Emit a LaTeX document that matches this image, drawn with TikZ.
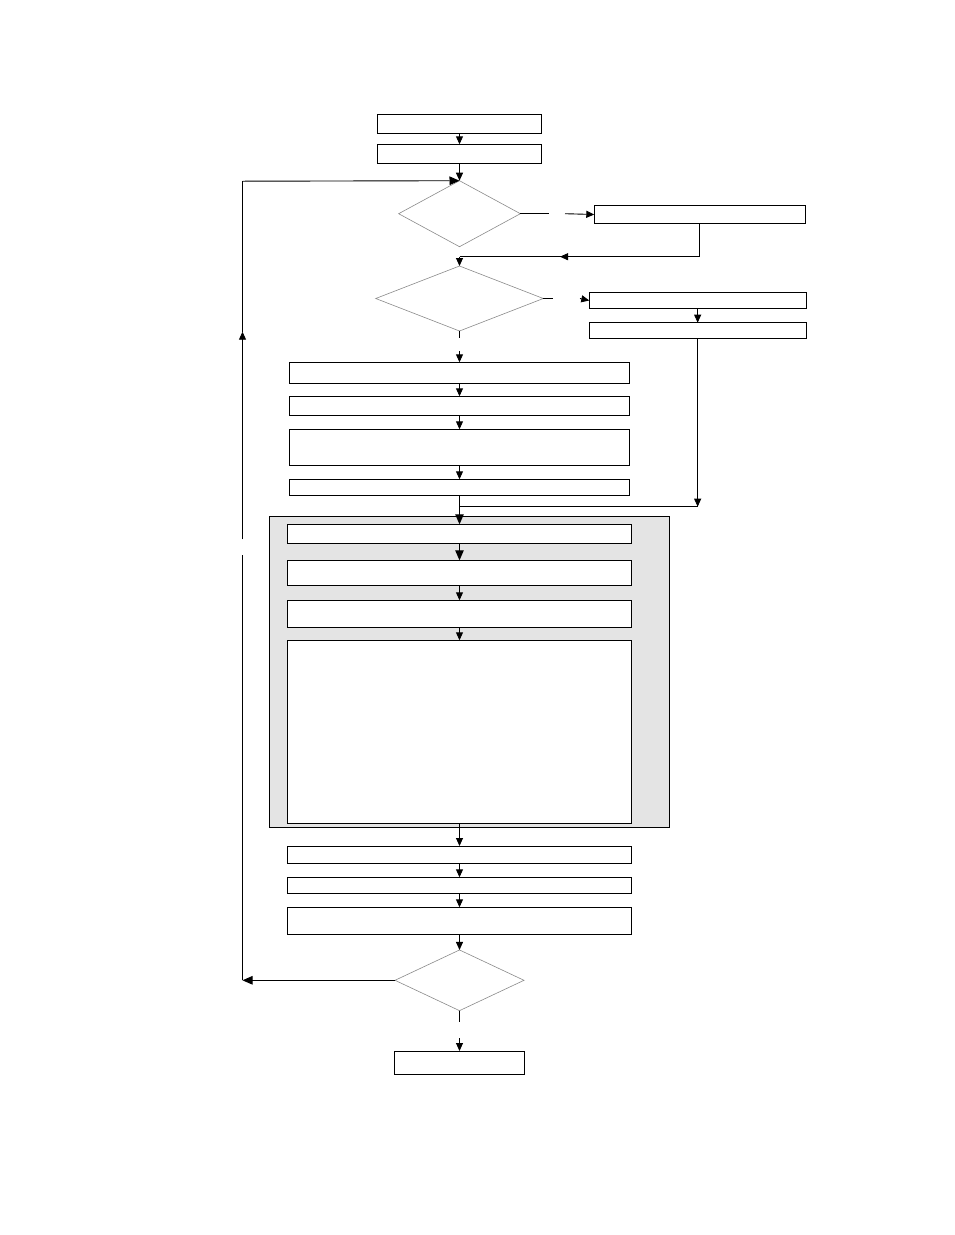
\documentclass[tikz,border=0pt]{standalone}
\usetikzlibrary{arrows.meta,shapes.geometric}
\definecolor{panelgray}{HTML}{E4E4E4}
\definecolor{diagray}{HTML}{8A8A8A}
\tikzset{
  box/.style={draw=black,line width=0.9pt,fill=white,rectangle,inner sep=0pt,outer sep=0pt},
  dia/.style={draw=diagray,line width=0.6pt,diamond,inner sep=0pt,outer sep=0pt},
  panel/.style={draw=black,line width=0.9pt,fill=panelgray},
  conn/.style={line width=0.9pt},
  arr/.style={conn,-{Triangle[length=8pt,width=7pt]}},
  bigarr/.style={conn,-{Triangle[length=10pt,width=8.5pt]}}
}
\begin{document}
\begin{tikzpicture}[x=1pt,y=-1pt]
\useasboundingbox (0,0) rectangle (954,1235);
% shaded panel
\node[panel,minimum width=400,minimum height=311.3,inner sep=0pt,outer sep=0pt] (panel) at (469.3,671.65) {};
% boxes
\node[box,minimum width=164.4,minimum height=19] (b1) at (459.5,123.8) {};
\node[box,minimum width=164.4,minimum height=19] (b2) at (459.5,153.8) {};
\node[dia,minimum width=121.7,minimum height=66] (d1) at (459.5,213.7) {};
\node[box,minimum width=210.7,minimum height=17.6] (b3) at (699.65,214.5) {};
\node[dia,minimum width=167.6,minimum height=65] (d2) at (459.5,298.5) {};
\node[box,minimum width=216.7,minimum height=15.6] (b4) at (697.65,300.5) {};
\node[box,minimum width=216.7,minimum height=15.6] (b5) at (697.65,330.5) {};
\node[box,minimum width=340,minimum height=21] (b6) at (459.5,372.8) {};
\node[box,minimum width=340,minimum height=19] (b7) at (459.5,405.8) {};
\node[box,minimum width=340,minimum height=36] (b8) at (459.5,447.3) {};
\node[box,minimum width=340,minimum height=16] (b9) at (459.5,487.3) {};
\node[box,minimum width=343.4,minimum height=19] (b10) at (459.5,533.8) {};
\node[box,minimum width=343.4,minimum height=25] (b11) at (459.5,572.8) {};
\node[box,minimum width=343.4,minimum height=27] (b12) at (459.5,613.8) {};
\node[box,minimum width=343.4,minimum height=183] (b13) at (459.5,731.8) {};
\node[box,minimum width=343.4,minimum height=17.3] (b14) at (459.5,854.65) {};
\node[box,minimum width=343.4,minimum height=16] (b15) at (459.5,885.3) {};
\node[box,minimum width=343.4,minimum height=27] (b16) at (459.5,920.8) {};
\node[dia,minimum width=129,minimum height=60.7] (d3) at (459.5,980.3) {};
\node[box,minimum width=130,minimum height=23.3] (b17) at (459.5,1062.65) {};
% free coordinates
\coordinate (y1a) at (549.3,213.7);
\coordinate (y1b) at (565,213.7);
\coordinate (j1) at (459.5,256.7);
\coordinate (m1a) at (585,256.7);
\coordinate (m1b) at (560,256.7);
\coordinate (y2a) at (552.7,298.5);
\coordinate (y2b) at (580,298.5);
\coordinate (n2a) at (459.5,338.3);
\coordinate (n2b) at (459.5,351);
\coordinate (j2) at (697.65,506.7);
\coordinate (j3) at (459.5,506.7);
\coordinate (n3a) at (459.5,1021.7);
\coordinate (n3b) at (459.5,1038);
\coordinate (L1) at (242.5,980.3);
\coordinate (L2) at (242.5,555);
\coordinate (L3) at (242.5,539.3);
\coordinate (L4) at (242.5,331.7);
\coordinate (L5) at (242.5,181.2);
% connectors
\draw[arr] (b1) -- (b2);
\draw[arr] (b2) -- (d1.north);
\draw[conn] (d1.east) -- (y1a);
\draw[arr] (y1b) -- (b3.west);
\draw[conn] (b3.south) |- (j1);
\draw[arr] (m1a) -- (m1b);
\draw[arr] (j1) -- (d2.north);
\draw[conn] (d2.east) -- (y2a);
\draw[arr] (y2b) -- (b4.west);
\draw[arr] (b4) -- (b5);
\draw[arr] (b5.south) -- (j2);
\draw[conn] (j2) -- (j3);
\draw[conn] (d2.south) -- (n2a);
\draw[arr] (n2b) -- (b6.north);
\draw[arr] (b6) -- (b7);
\draw[arr] (b7) -- (b8);
\draw[arr] (b8) -- (b9);
\draw[bigarr] (b9) -- (b10);
\draw[bigarr] (b10) -- (b11);
\draw[arr] (b11) -- (b12);
\draw[arr] (b12) -- (b13);
\draw[arr] (b13) -- (b14);
\draw[arr] (b14) -- (b15);
\draw[arr] (b15) -- (b16);
\draw[arr] (b16) -- (d3.north);
\draw[conn] (d3.south) -- (n3a);
\draw[arr] (n3b) -- (b17.north);
\draw[bigarr] (d3.west) -- (L1);
\draw[conn] (L1) -- (L2);
\draw[arr] (L3) -- (L4);
\draw[conn] (L4) -- (L5);
\draw[bigarr] (L5) -- (d1.north);
\end{tikzpicture}
\end{document}
